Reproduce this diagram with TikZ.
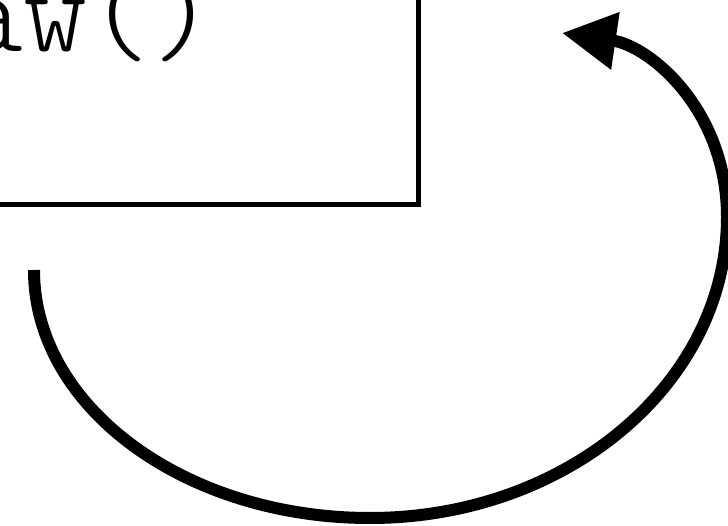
\documentclass[tikz,border=0pt]{standalone}
\usepackage{fontspec}
\newfontfamily\codefont{Latin Modern Mono Light}
\usetikzlibrary{arrows.meta}
\begin{document}
\begin{tikzpicture}[x=1pt,y=-1pt,
  boxline/.style={line width=5pt, draw=black},
  codetext/.style={inner sep=0pt, outer sep=0pt, anchor=base west, font=\codefont\fontsize{122}{122}\selectfont},
  looparrow/.style={line width=12pt, -{Triangle[length=54pt,width=55pt]}}]
\useasboundingbox (0,0) rectangle (728,526);
\clip (0,0) rectangle (728,526);
\coordinate (boxNW) at (-400,-200);
\coordinate (boxSE) at (418,205);
\draw[boxline] (boxNW) rectangle (boxSE);
\node[codetext] (code) at (-169,52) {draw()};
\coordinate (start) at (34,270);
\coordinate (bottom) at (370,518);
\coordinate (right) at (727,217);
\coordinate (tip) at (562,33);
\draw[looparrow] (start) .. controls (34,407) and (185,518) .. (bottom)
  .. controls (567,518) and (727,383) .. (right)
  .. controls (727,110) and (650,46) .. (tip);
\end{tikzpicture}
\end{document}
